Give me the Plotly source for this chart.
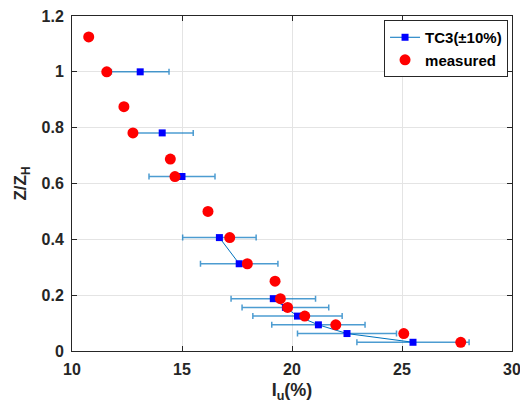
import plotly.graph_objects as go

# TC3 model values with +-10% error bars (None = no model value at that height)
tc3_z = [1.0, 0.875, 0.78125, 0.6875, 0.625, 0.5, 0.40625, 0.3125, 0.25,
         0.1875, 0.15625, 0.125, 0.09375, 0.0625, 0.03125]
tc3_iu = [13.1, None, 14.1, None, 15.0, None, 16.7, 17.6, None,
          19.15, 19.7, 20.25, 21.2, 22.5, 25.5]
tc3_err = [1.31, 0, 1.41, 0, 1.5, 0, 1.67, 1.76, 0,
           1.92, 1.97, 2.03, 2.12, 2.25, 2.55]

# measured values
meas_z = [1.125, 1.0, 0.875, 0.78125, 0.6875, 0.625, 0.5, 0.40625, 0.3125,
          0.25, 0.1875, 0.15625, 0.125, 0.09375, 0.0625, 0.03125]
meas_iu = [10.76, 11.58, 12.36, 12.77, 14.47, 14.68, 16.18, 17.17, 17.97,
           19.23, 19.47, 19.8, 20.58, 21.99, 25.08, 27.67]

x_ticks = [10, 15, 20, 25, 30]
y_ticks = [0, 0.2, 0.4, 0.6, 0.8, 1, 1.2]
y_labels = ["0", "0.2", "0.4", "0.6", "0.8", "1", "1.2"]

ink = "rgb(38,38,38)"

fig = go.Figure()
fig.add_trace(go.Scatter(
    x=tc3_iu, y=tc3_z, name="TC3(\u00b110%)", mode="lines+markers",
    line=dict(color="rgb(0,114,189)", width=1),
    marker=dict(symbol="square", size=7, color="#0000ff"),
    error_x=dict(type="data", array=tc3_err, visible=True,
                 color="rgba(0,114,189,0.7)", thickness=1.5, width=3),
))
fig.add_trace(go.Scatter(
    x=meas_iu, y=meas_z, name="measured", mode="markers",
    marker=dict(symbol="circle", size=11, color="#ff0000"),
))

axis_common = dict(
    showline=True, linecolor=ink, linewidth=1, mirror="ticks",
    ticks="inside", ticklen=5, tickcolor=ink,
    showgrid=True, gridcolor="rgb(228,228,228)", gridwidth=1,
    zeroline=False, automargin=False, ticklabeloverflow="allow",
    tickfont=dict(size=16, color=ink),
)

fig.update_xaxes(axis_common, range=[10, 30], tickvals=x_ticks, ticklabelstandoff=4,
                 title=dict(text="I<sub>u</sub>(%)", font=dict(size=18, color=ink), standoff=6))
fig.update_yaxes(axis_common, range=[0, 1.2], tickvals=y_ticks, ticktext=y_labels,
                 ticklabelstandoff=4,
                 title=dict(text="Z/Z<sub>H</sub>", font=dict(size=17, color=ink), standoff=10))

fig.update_layout(
    width=520, height=407,
    margin=dict(l=72, r=8, t=16, b=56),
    paper_bgcolor="white", plot_bgcolor="white",
    font=dict(family="Liberation Sans, Arial, sans-serif", weight="bold", color=ink),
    showlegend=True,
    legend=dict(x=0.991, y=0.988, xanchor="right", yanchor="top",
                bgcolor="white", bordercolor=ink, borderwidth=1,
                tracegroupgap=0, itemwidth=30,
                font=dict(size=15, color="black")),
)

# drop the default page margin so the figure sits at the window's corner
fig.write_html("out.html", config={"displayModeBar": False},
               post_script="document.body.style.margin='0';")
